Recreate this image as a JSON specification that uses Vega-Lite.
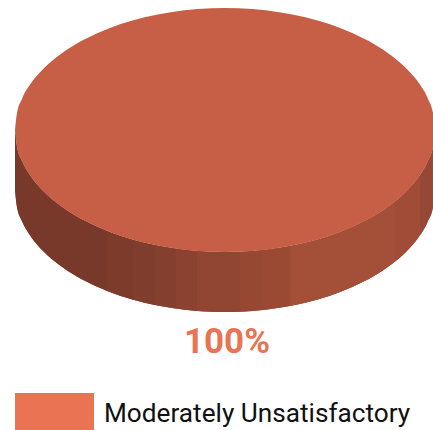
{
"$schema":"https://vega.github.io/schema/vega-lite/v6.json",
"width":433,"height":430,"padding":0,"autosize":"none",
"background":"white",
"view":{"stroke":null},
"encoding":{
  "x":{"field":"x","type":"quantitative","scale":{"domain":[-225,208],"nice":false,"zero":false},"axis":null},
  "y":{"field":"upper","type":"quantitative","scale":{"domain":[-300,130],"nice":false,"zero":false},"axis":null}
},
"datasets":{
"top":[
{"x":-210,"f":0},{"x":-208.2,"f":15.9},{"x":-202.8,"f":31.6},{"x":-194,"f":46.7},{"x":-181.9,"f":61},{"x":-166.6,"f":74.3},{"x":-148.5,"f":86.3},{"x":-127.8,"f":96.8},{"x":-105,"f":105.7},{"x":-80.4,"f":112.7},{"x":-54.3,"f":117.8},{"x":-27.4,"f":121},{"x":0,"f":122},{"x":27.4,"f":121},{"x":54.3,"f":117.8},{"x":80.4,"f":112.7},{"x":105,"f":105.7},{"x":127.8,"f":96.8},{"x":148.5,"f":86.3},{"x":166.6,"f":74.3},{"x":181.9,"f":61},{"x":194,"f":46.7},{"x":202.8,"f":31.6},{"x":208.2,"f":15.9},{"x":210,"f":0}
],
"side":[
{"b":"a","x":-210,"f":0},{"b":"a","x":-208.2,"f":15.9},{"b":"a","x":-202.8,"f":31.6},{"b":"a","x":-194,"f":46.7},{"b":"a","x":-181.9,"f":61},{"b":"a","x":-166.6,"f":74.3},{"b":"a","x":-148.5,"f":86.3},{"b":"a","x":-127.8,"f":96.8},{"b":"a","x":-118,"f":100.9},
{"b":"b","x":-118,"f":100.9},{"b":"b","x":-105,"f":105.7},{"b":"b","x":-92,"f":109.7},
{"b":"c","x":-92,"f":109.7},{"b":"c","x":-80.4,"f":112.7},{"b":"c","x":-70,"f":115},
{"b":"d","x":-70,"f":115},{"b":"d","x":-54.3,"f":117.8},{"b":"d","x":-49,"f":118.6},
{"b":"e","x":-49,"f":118.6},{"b":"e","x":-38,"f":120},{"b":"e","x":-28,"f":120.9},
{"b":"f","x":-28,"f":120.9},{"b":"f","x":-14,"f":121.7},{"b":"f","x":0,"f":122},{"b":"f","x":15,"f":121.7},
{"b":"g","x":15,"f":121.7},{"b":"g","x":27.4,"f":121},{"b":"g","x":37,"f":120.1},
{"b":"h","x":37,"f":120.1},{"b":"h","x":54.3,"f":117.8},{"b":"h","x":65,"f":116},
{"b":"i","x":65,"f":116},{"b":"i","x":80.4,"f":112.7},{"b":"i","x":105,"f":105.7},{"b":"i","x":127.8,"f":96.8},{"b":"i","x":148.5,"f":86.3},{"b":"i","x":166.6,"f":74.3},{"b":"i","x":170,"f":71.6},
{"b":"j","x":170,"f":71.6},{"b":"j","x":181.9,"f":61},{"b":"j","x":195,"f":45.3},
{"b":"k","x":195,"f":45.3},{"b":"k","x":202.8,"f":31.6},{"b":"k","x":208.2,"f":15.9},{"b":"k","x":210,"f":0}
]
},
"layer":[
{"data":{"name":"top"},
 "transform":[{"calculate":"-datum.f","as":"upper"},{"calculate":"-datum.f-60","as":"lower"}],
 "mark":{"type":"area","interpolate":"monotone","color":"#8b4230","clip":true},
 "encoding":{"y2":{"field":"lower"}}},
{"data":{"name":"side"},
 "transform":[{"calculate":"-datum.f","as":"upper"},{"calculate":"-datum.f-60","as":"lower"}],
 "mark":{"type":"area","interpolate":"monotone","clip":true},
 "encoding":{
  "y2":{"field":"lower"},
  "color":{"field":"b","type":"nominal","legend":null,"scale":{"domain":["a","b","c","d","e","f","g","h","i","j","k"],"range":["#78392a","#7c3b2b","#7f3d2d","#853f2e","#8b4230","#914632","#964833","#9a4a33","#a44f38","#a04c37","#964836"]}}
 }},
{"data":{"name":"top"},
 "transform":[{"calculate":"datum.f","as":"upper"},{"calculate":"-datum.f","as":"lower"}],
 "mark":{"type":"area","interpolate":"monotone","color":"#c65f45","clip":true},
 "encoding":{"y2":{"field":"lower"}}},
{"data":{"values":[{"x":-210,"x2":-131,"upper":-263,"y2":-300}]},
 "mark":{"type":"rect","color":"#e97353"},
 "encoding":{"x2":{"field":"x2"},"y2":{"field":"y2"}}},
{"data":{"values":[{"x":2,"upper":-223,"label":"100%"}]},
 "mark":{"type":"text","font":"Roboto","fontWeight":700,"fontSize":35,"color":"#e97353","align":"center","baseline":"alphabetic"},
 "encoding":{"text":{"field":"label"}}},
{"data":{"values":[{"x":-121,"upper":-292,"label":"Moderately Unsatisfactory"}]},
 "mark":{"type":"text","font":"Roboto","fontWeight":400,"fontSize":26.2,"color":"#111111","align":"left","baseline":"alphabetic"},
 "encoding":{"text":{"field":"label"}}}
]
}
